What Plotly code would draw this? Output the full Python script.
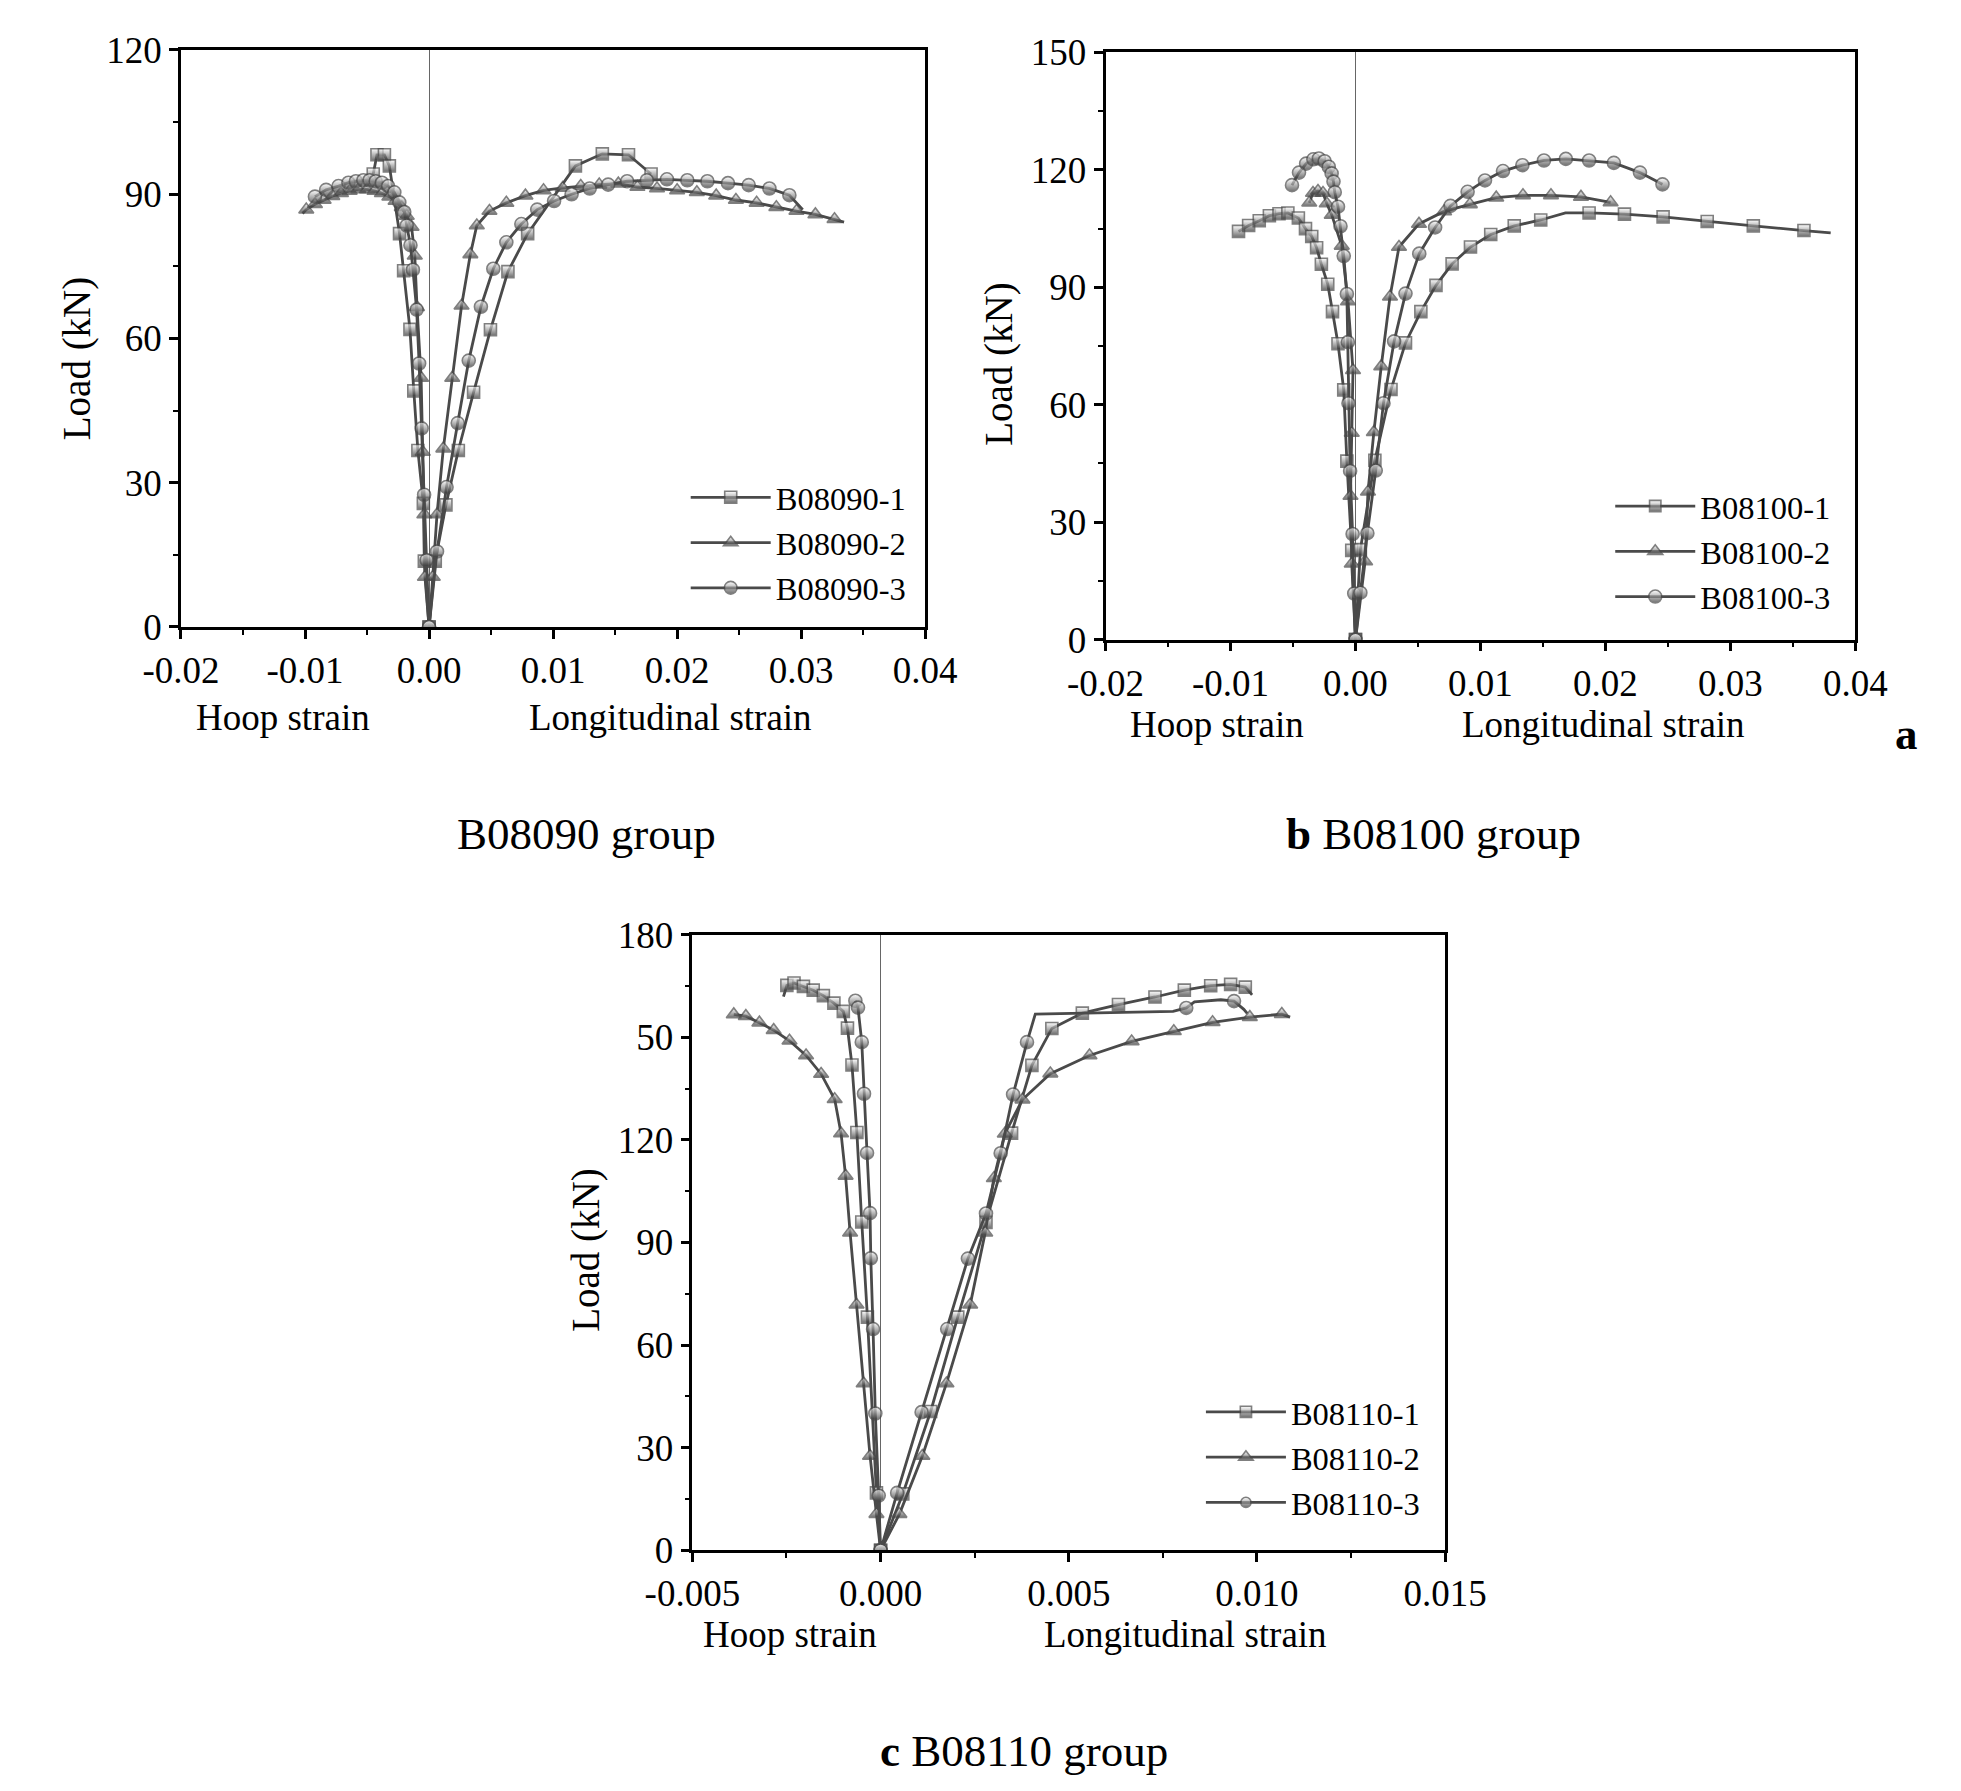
import plotly.graph_objects as go

# ---------------- data ----------------
# Panel a: B08090 group (hoop strain negative, longitudinal positive)
a1_hoop_x = [0, -0.00038, -0.00046, -0.0009, -0.00123, -0.00154, -0.00205, -0.00238, -0.0032, -0.0036, -0.0042, -0.0045]
a1_hoop_y = [0, 13.7, 25.7, 36.7, 49.1, 61.9, 74.1, 81.8, 95.9, 98.2, 98.2, 94.2]
a1_long_x = [0, 0.0005, 0.00136, 0.00236, 0.00359, 0.00495, 0.00636, 0.00795, 0.0118, 0.01397, 0.01608, 0.0179]
a1_long_y = [0, 13.7, 25.4, 36.7, 48.8, 61.8, 73.9, 81.8, 95.9, 98.4, 98.2, 94.2]

a2_hoop_x = [0, -0.00033, -0.00038, -0.00051, -0.00064, -0.00097, -0.00115, -0.00141, -0.0018, -0.0022, -0.0027,
             -0.0032, -0.0038, -0.0044, -0.005, -0.0057, -0.0064, -0.0071, -0.0078, -0.0085, -0.0092, -0.0099, -0.0102]
a2_hoop_y = [0, 10.4, 23.4, 36.4, 51.8, 66.5, 77.2, 83.2, 85.5, 87.3, 88.6, 89.5, 90.2, 90.7, 91.0, 91.0, 90.7,
             90.2, 89.6, 88.8, 87.9, 86.8, 86.0]
a2_long_x = [0, 0.0003, 0.00064, 0.00115, 0.00187, 0.00262, 0.00333, 0.00385, 0.00487, 0.00623, 0.00777, 0.00923,
             0.01077, 0.01223, 0.01372, 0.01526, 0.0168, 0.01838, 0.02, 0.02159, 0.02315, 0.02474, 0.02641, 0.028,
             0.02962, 0.03115, 0.03269, 0.03346]
a2_long_y = [0, 10.4, 23.4, 37.1, 51.8, 66.8, 77.5, 83.5, 86.5, 88.2, 89.7, 90.8, 91.3, 91.7, 92.0, 92.2, 91.5, 91.2,
             90.8, 90.4, 89.7, 88.8, 88.2, 87.3, 86.5, 85.8, 84.8, 84.2]

a3_hoop_x = [0, -0.0002, -0.0004, -0.0006, -0.0008, -0.001, -0.0013, -0.0015, -0.0018, -0.002, -0.0024, -0.0028,
             -0.0033, -0.0038, -0.0043, -0.0048, -0.0053, -0.0059, -0.0065, -0.0073, -0.0083, -0.0092]
a3_hoop_y = [0, 13.9, 27.5, 41.3, 54.8, 66.0, 74.3, 79.4, 83.5, 86.3, 88.3, 90.4, 91.7, 92.4, 92.7, 92.9, 92.9,
             92.7, 92.4, 91.7, 90.9, 89.5]
a3_long_x = [0, 0.00064, 0.00141, 0.00231, 0.0032, 0.00418, 0.00518, 0.00623, 0.00744, 0.00872, 0.01008, 0.01149,
             0.01295, 0.01444, 0.01597, 0.01756, 0.01918, 0.02082, 0.02244, 0.0241, 0.02577, 0.02744, 0.02905, 0.03013]
a3_long_y = [0, 15.7, 29.1, 42.4, 55.4, 66.6, 74.5, 80.0, 83.8, 86.8, 88.6, 90.0, 91.2, 92.0, 92.7, 92.9, 93.1,
             92.9, 92.7, 92.3, 91.9, 91.2, 89.8, 86.8]

# Panel b: B08100 group
b1_hoop_x = [0, -0.0003, -0.00069, -0.00094, -0.0014, -0.00184, -0.00222, -0.00273, -0.00311, -0.0035, -0.004,
             -0.00457, -0.00541, -0.00612, -0.00689, -0.0077, -0.00855, -0.00936]
b1_hoop_y = [0, 22.8, 45.6, 63.8, 75.6, 83.8, 90.8, 95.9, 100.1, 103.0, 105.0, 107.7, 109.0, 108.8, 108.3, 107.0,
             105.8, 104.3]
b1_long_x = [0, 0.00039, 0.00155, 0.00284, 0.004, 0.00523, 0.00644, 0.00773, 0.0092, 0.01082, 0.0127, 0.01482,
             0.0168, 0.01869, 0.02152, 0.02461, 0.02814, 0.03183, 0.03588, 0.03802]
b1_long_y = [0, 23.0, 45.8, 63.9, 75.8, 83.8, 90.5, 96.0, 100.3, 103.5, 105.7, 107.2, 109.0, 109.0, 108.7, 108.0,
             106.8, 105.7, 104.5, 103.9]

b2_hoop_x = [0, -0.0003, -0.0004, -0.0003, -0.0002, -0.0006, -0.0011, -0.0019, -0.0023, -0.0026, -0.003, -0.0034,
             -0.0037]
b2_hoop_y = [0, 19.4, 36.7, 52.8, 68.8, 86.4, 100.6, 108.5, 111.4, 114.1, 114.6, 114.1, 111.6]
b2_long_x = [0, 0.00077, 0.001, 0.00147, 0.00206, 0.00276, 0.00348, 0.00508, 0.00709, 0.00915, 0.01126, 0.0134,
             0.01564, 0.01804, 0.02041]
b2_long_y = [0, 20.0, 37.8, 53.0, 69.8, 87.6, 100.3, 106.2, 109.4, 111.2, 112.9, 113.5, 113.5, 113.1, 111.7]

b3_hoop_x = [0, -0.0001, -0.00023, -0.00043, -0.00056, -0.00061, -0.00069, -0.00094, -0.0012, -0.0014, -0.00166,
             -0.00176, -0.00191, -0.00214, -0.00247, -0.00293, -0.00337, -0.00395, -0.00452, -0.00508]
b3_hoop_y = [0, 11.8, 27.0, 43.1, 60.4, 76.0, 88.3, 98.0, 105.6, 110.6, 114.3, 117.0, 119.1, 120.8, 122.2, 122.9,
             122.7, 121.6, 119.3, 116.1]
b3_long_x = [0, 0.00039, 0.00095, 0.00162, 0.00224, 0.00309, 0.004, 0.0051, 0.00637, 0.0076, 0.00897, 0.01036,
             0.0118, 0.01335, 0.01508, 0.01683, 0.01869, 0.02067, 0.02276, 0.02456]
b3_long_y = [0, 12.0, 27.2, 43.2, 60.4, 76.2, 88.4, 98.6, 105.3, 110.8, 114.4, 117.3, 119.7, 121.2, 122.4, 122.8,
             122.4, 121.8, 119.3, 116.3]

# Panel c: B08110 group
c1_hoop_x = [0, -0.00011, -0.00035, -0.0005, -0.00063, -0.00076, -0.00088, -0.00099, -0.00124, -0.00152, -0.00179,
             -0.00205, -0.0023, -0.00249, -0.00258]
c1_hoop_y = [0, 16.8, 68.2, 96.0, 122.2, 141.9, 152.7, 157.6, 160.0, 162.2, 163.8, 164.9, 165.9, 165.2, 161.9]
c1_long_x = [0, 0.00059, 0.00133, 0.00205, 0.0028, 0.00348, 0.00402, 0.00455, 0.00536, 0.00632, 0.00729, 0.00807,
             0.00877, 0.0093, 0.00969, 0.00987]
c1_long_y = [0, 16.5, 40.6, 68.2, 95.9, 122.0, 141.8, 152.6, 157.1, 159.6, 161.8, 163.8, 165.1, 165.5, 164.7, 162.4]

c2_hoop_x = [0, -0.00011, -0.00028, -0.00045, -0.00064, -0.00081, -0.00093, -0.00105, -0.00122, -0.00158, -0.00198,
             -0.00242, -0.00284, -0.00322, -0.00358, -0.0039]
c2_hoop_y = [0, 10.6, 27.6, 48.8, 71.8, 92.9, 109.5, 121.9, 131.9, 139.3, 144.7, 149.0, 152.1, 154.3, 156.2, 156.7]
c2_long_x = [0, 0.0005, 0.00111, 0.00175, 0.00238, 0.00278, 0.00301, 0.0033, 0.00377, 0.00451, 0.00555, 0.00667,
             0.00779, 0.00882, 0.00981, 0.01066, 0.01088]
c2_long_y = [0, 10.6, 27.6, 48.8, 71.8, 92.9, 108.8, 121.8, 131.8, 139.4, 144.7, 148.8, 151.8, 154.4, 155.9, 156.8,
             155.9]

c3_hoop_x = [0, -0.00005, -0.00014, -0.0002, -0.00026, -0.00028, -0.00036, -0.00044, -0.0005, -0.0006, -0.00067]
c3_hoop_y = [0, 16.0, 40.0, 64.7, 85.4, 98.6, 116.2, 133.5, 148.6, 158.7, 160.7]
c3_long_x = [0, 0.00044, 0.00109, 0.00177, 0.00232, 0.0028, 0.00319, 0.00352, 0.00389, 0.00411, 0.00777, 0.00812,
             0.00834, 0.00904, 0.00939, 0.00965, 0.00974]
c3_long_y = [0, 16.8, 40.4, 64.7, 85.3, 98.5, 116.1, 133.3, 148.6, 156.8, 157.6, 158.6, 160.4, 161.0, 160.6, 158.2,
             157.0]

# indices of curve vertices (in each *_long / *_hoop list) drawn without a symbol
a2_hoop_plain = [22]
a2_long_plain = [27]
a3_long_plain = [23]
b1_long_plain = [12, 19]
c1_hoop_plain = [14]
c1_long_plain = [15]
c2_long_plain = [16]
c3_long_plain = [9, 10, 12, 13, 15, 16]

names_a = ["B08090-1", "B08090-2", "B08090-3"]
names_b = ["B08100-1", "B08100-2", "B08100-3"]
names_c = ["B08110-1", "B08110-2", "B08110-3"]

xticks_ab = [-0.02, -0.01, 0.0, 0.01, 0.02, 0.03, 0.04]
xtext_ab = ["-0.02", "-0.01", "0.00", "0.01", "0.02", "0.03", "0.04"]
xticks_c = [-0.005, 0.0, 0.005, 0.01, 0.015]
xtext_c = ["-0.005", "0.000", "0.005", "0.010", "0.015"]
yticks_a = [0, 30, 60, 90, 120]
yticks_b = [0, 30, 60, 90, 120, 150]
yticks_c = [0, 30, 60, 90, 120, 150, 180]
ytext_c = ["0", "30", "60", "90", "120", "50", "180"]

# ---------------- style ----------------
W, H = 1961, 1791
GRAY = "#4a4a4a"
FONT = "Liberation Serif"
symbols = ["square", "triangle-up", "circle"]
msizes = [12, 13, 13]

fig = go.Figure()


def add_series(hx, hy, lx, ly, name, k, xa, ya, leg, hoop_plain=(), long_plain=()):
    n_h = len(hx)
    xs = hx[::-1] + lx
    ys = hy[::-1] + ly
    plain = set(n_h - 1 - i for i in hoop_plain) | set(n_h + i for i in long_plain)
    sizes = [0 if i in plain else msizes[k] for i in range(len(xs))]
    fig.add_trace(go.Scatter(
        x=xs, y=ys, name=name, mode="lines+markers", xaxis=xa, yaxis=ya, legend=leg,
        line=dict(color=GRAY, width=2.8),
        marker=dict(symbol=symbols[k], size=sizes, color="white",
                    gradient=dict(type="vertical", color="#303030"),
                    line=dict(color=GRAY, width=1.6)),
    ))


add_series(a1_hoop_x, a1_hoop_y, a1_long_x, a1_long_y, names_a[0], 0, "x", "y", "legend")
add_series(a2_hoop_x, a2_hoop_y, a2_long_x, a2_long_y, names_a[1], 1, "x", "y", "legend",
           a2_hoop_plain, a2_long_plain)
add_series(a3_hoop_x, a3_hoop_y, a3_long_x, a3_long_y, names_a[2], 2, "x", "y", "legend",
           (), a3_long_plain)
add_series(b1_hoop_x, b1_hoop_y, b1_long_x, b1_long_y, names_b[0], 0, "x2", "y2", "legend2",
           (), b1_long_plain)
add_series(b2_hoop_x, b2_hoop_y, b2_long_x, b2_long_y, names_b[1], 1, "x2", "y2", "legend2")
add_series(b3_hoop_x, b3_hoop_y, b3_long_x, b3_long_y, names_b[2], 2, "x2", "y2", "legend2")
add_series(c1_hoop_x, c1_hoop_y, c1_long_x, c1_long_y, names_c[0], 0, "x3", "y3", "legend3",
           c1_hoop_plain, c1_long_plain)
add_series(c2_hoop_x, c2_hoop_y, c2_long_x, c2_long_y, names_c[1], 1, "x3", "y3", "legend3",
           (), c2_long_plain)
add_series(c3_hoop_x, c3_hoop_y, c3_long_x, c3_long_y, names_c[2], 2, "x3", "y3", "legend3",
           (), c3_long_plain)


def px_x(p):
    return p / W


def px_y(p):
    return 1 - p / H


tickfont = dict(family=FONT, size=37, color="black")


def xaxis(dom, rng, vals, text, dtick_minor, anchor):
    return dict(domain=dom, range=rng, anchor=anchor, tickvals=vals, ticktext=text, ticks="outside",
                ticklen=9, tickwidth=2.5, tickcolor="black", showline=True, linecolor="black", linewidth=2.5,
                mirror=True, showgrid=False, zeroline=True, zerolinecolor="#666666", zerolinewidth=1.2,
                tickfont=tickfont, minor=dict(dtick=dtick_minor, ticks="outside", ticklen=5, tickwidth=2,
                                               tickcolor="black", showgrid=False))


def yaxis(dom, rng, vals, text, anchor):
    return dict(domain=dom, range=rng, anchor=anchor, tickvals=vals, ticktext=text, ticks="outside",
                ticklen=9, tickwidth=2.5, tickcolor="black", showline=True, linecolor="black", linewidth=2.5,
                mirror=True, showgrid=False, zeroline=False, tickfont=tickfont, ticklabelstandoff=0,
                minor=dict(dtick=15, ticks="outside", ticklen=5, tickwidth=2, tickcolor="black", showgrid=False))


legfont = dict(family=FONT, size=32.5, color="black")


def legend(x, y):
    return dict(x=x, y=y, xanchor="left", yanchor="top", font=legfont, bgcolor="rgba(0,0,0,0)",
                borderwidth=0, itemwidth=80, tracegroupgap=0, itemsizing="trace")


fig.update_layout(
    width=W, height=H, margin=dict(l=0, r=0, t=0, b=0),
    paper_bgcolor="white", plot_bgcolor="white",
    font=dict(family=FONT, color="black"),
    xaxis=xaxis([px_x(131), px_x(911)], [-0.02, 0.04], xticks_ab, xtext_ab, 0.005, "y"),
    yaxis=yaxis([px_y(613), px_y(22.5)], [0, 120], yticks_a, [str(v) for v in yticks_a], "x"),
    xaxis2=xaxis([px_x(1100), px_x(1886)], [-0.02, 0.04], xticks_ab, xtext_ab, 0.005, "y2"),
    yaxis2=yaxis([px_y(626), px_y(25)], [0, 150], yticks_b, [str(v) for v in yticks_b], "x2"),
    xaxis3=xaxis([px_x(667), px_x(1456)], [-0.005, 0.015], xticks_c, xtext_c, 0.0025, "y3"),
    yaxis3=yaxis([px_y(1558), px_y(928)], [0, 180], yticks_c, ytext_c, "x3"),
    legend=legend(px_x(660), px_y(452)),
    legend2=legend(px_x(1629), px_y(461)),
    legend3=legend(px_x(1200), px_y(1388)),
    showlegend=True,
)

txt = dict(family=FONT, size=37, color="black")
ytl = dict(family=FONT, size=39, color="black")
cap = dict(family=FONT, size=45, color="black")
annos = [
    ("Hoop strain", 238, 706, txt, 0), ("Longitudinal strain", 644, 706, txt, 0),
    ("Load (kN)", 22, 338, ytl, -90), ("B08090 group", 556, 825, cap, 0),
    ("Hoop strain", 1217, 713, txt, 0), ("Longitudinal strain", 1622, 713, txt, 0),
    ("Load (kN)", 988, 344, ytl, -90), ("<b>a</b>", 1940, 723, cap, 0),
    ("<b>b</b> B08100 group", 1444, 825, cap, 0),
    ("Hoop strain", 769, 1644, txt, 0), ("Longitudinal strain", 1184, 1644, txt, 0),
    ("Load (kN)", 556, 1250, ytl, -90), ("<b>c</b> B08110 group", 1015, 1763, cap, 0),
]
for t, x, y, f, ang in annos:
    fig.add_annotation(text=t, x=px_x(x), y=px_y(y), xref="paper", yref="paper", showarrow=False,
                       font=f, textangle=ang, xanchor="center", yanchor="middle")

fig.write_html("out.html")
